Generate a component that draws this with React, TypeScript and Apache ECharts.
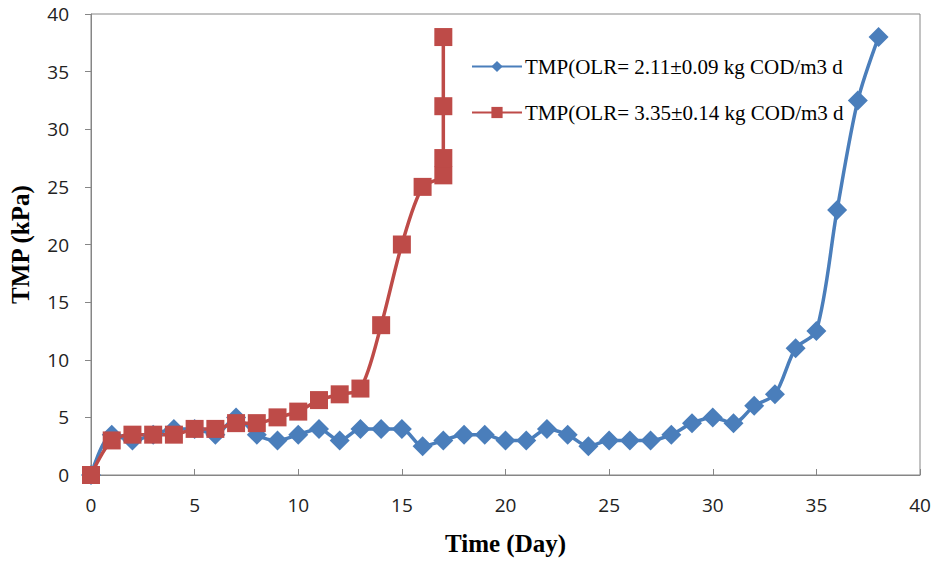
import React, { useEffect, useRef } from "react";
import * as echarts from "echarts";

const blueDays = [0,1,2,3,4,5,6,7,8,9,10,11,12,13,14,15,16,17,18,19,20,21,22,23,24,25,26,27,28,29,30,31,32,33,34,35,36,37,38];
const blueTMP = [0,3.5,3.0,3.5,4.0,4.0,3.5,5.0,3.5,3.0,3.5,4.0,3.0,4.0,4.0,4.0,2.5,3.0,3.5,3.5,3.0,3.0,4.0,3.5,2.5,3.0,3.0,3.0,3.5,4.5,5.0,4.5,6.0,7.0,11.0,12.5,23.0,32.5,38.0];
const redDays = [0,1,2,3,4,5,6,7,8,9,10,11,12,13,14,15,16,17,17,17,17];
const redTMP = [0,3.0,3.5,3.5,3.5,4.0,4.0,4.5,4.5,5.0,5.5,6.5,7.0,7.5,13.0,20.0,25.0,26.0,27.5,32.0,38.0];
const seriesNames = ["TMP(OLR= 2.11±0.09 kg COD/m3 d", "TMP(OLR= 3.35±0.14 kg COD/m3 d"];

export default function App() {
  const ref = useRef<HTMLDivElement>(null);
  useEffect(() => {
    if (!ref.current) return;
    const chart = echarts.init(ref.current, null, { renderer: "svg" });
    const axisLine = { show: true, lineStyle: { color: "#868686", width: 1 } };
    chart.setOption({
      animation: false,
      backgroundColor: "#fff",
      grid: { left: 90, right: 17, top: 14, bottom: 84, show: true, borderColor: "#868686", borderWidth: 1 },
      legend: {
        orient: "vertical",
        left: 466,
        top: 51,
        itemGap: 25,
        itemWidth: 50,
        itemHeight: 14,
        textStyle: { fontFamily: "Liberation Serif", fontSize: 21, color: "#000", padding: [0, 0, 0, -2] },
        data: seriesNames,
      },
      xAxis: {
        type: "value",
        min: 0,
        max: 40,
        interval: 5,
        name: "Time (Day)",
        nameLocation: "middle",
        nameGap: 56,
        nameTextStyle: { fontFamily: "Liberation Serif", fontWeight: "bold", fontSize: 25, color: "#000" },
        axisLine,
        axisTick: { show: true, inside: true, length: 6, lineStyle: { color: "#868686" } },
        axisLabel: { fontFamily: "Open Sans", fontSize: 19, color: "#222", margin: 20 },
        splitLine: { show: false },
      },
      yAxis: {
        type: "value",
        min: 0,
        max: 40,
        interval: 5,
        name: "TMP (kPa)",
        nameLocation: "middle",
        nameGap: 58,
        nameTextStyle: { fontFamily: "Liberation Serif", fontWeight: "bold", fontSize: 25, color: "#000" },
        axisLine,
        axisTick: { show: true, inside: false, length: 6, lineStyle: { color: "#868686" } },
        axisLabel: { fontFamily: "Open Sans", fontSize: 19, color: "#222", margin: 22 },
        splitLine: { show: false },
      },
      series: [
        {
          name: seriesNames[0],
          type: "line",
          data: blueDays.map((d, i) => [d, blueTMP[i]]),
          smooth: 0.3,
          symbol: "diamond",
          symbolSize: 20,
          lineStyle: { color: "#4A7EBB", width: 3.5 },
          itemStyle: { color: "#4A7EBB" },
        },
        {
          name: seriesNames[1],
          type: "line",
          data: redDays.map((d, i) => [d, redTMP[i]]),
          smooth: 0.3,
          symbol: "rect",
          symbolSize: 18,
          lineStyle: { color: "#BE4B48", width: 3.5 },
          itemStyle: { color: "#BE4B48" },
        },
      ],
    });
    return () => chart.dispose();
  }, []);
  return <div ref={ref} style={{ width: 937, height: 561, position: "absolute", left: 0, top: 0 }} />;
}
